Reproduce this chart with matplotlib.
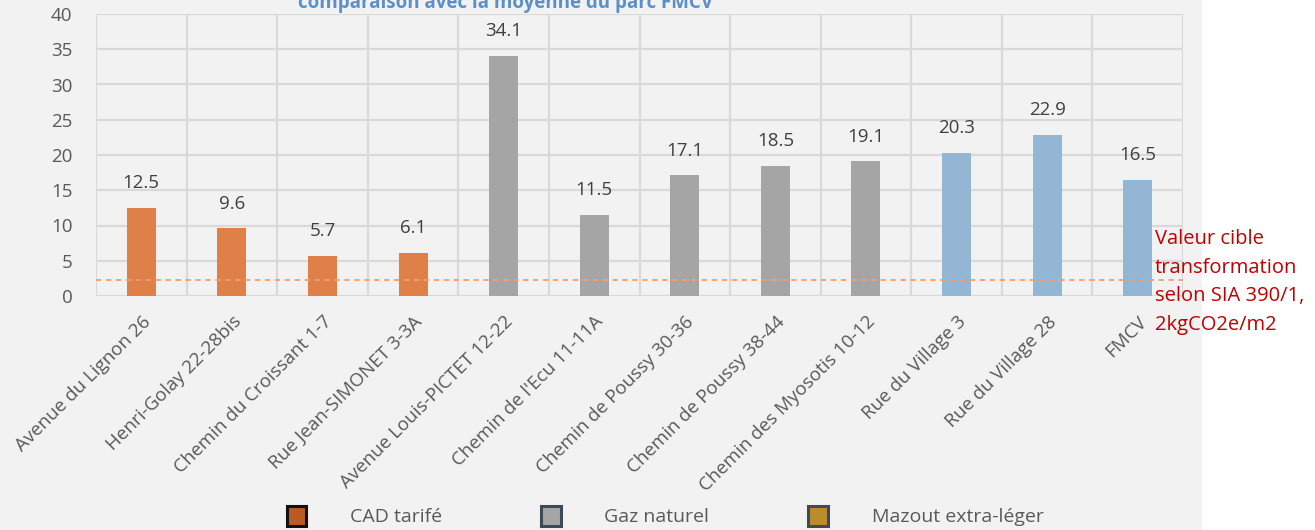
import matplotlib
matplotlib.use("Agg")
import matplotlib.pyplot as plt
from matplotlib.patches import Patch, Rectangle


# données
batiments = [
    "Avenue du Lignon 26",
    "Henri-Golay 22-28bis",
    "Chemin du Croissant 1-7",
    "Rue Jean-SIMONET 3-3A",
    "Avenue Louis-PICTET 12-22",
    "Chemin de l'Ecu 11-11A",
    "Chemin de Poussy 30-36",
    "Chemin de Poussy 38-44",
    "Chemin des Myosotis 10-12",
    "Rue du Village 3",
    "Rue du Village 28",
    "FMCV",
]
emissions = [12.5, 9.6, 5.7, 6.1, 34.1, 11.5, 17.1, 18.5, 19.1, 20.3, 22.9, 16.5]
groupes = ["cad", "cad", "cad", "cad", "gaz", "gaz", "gaz", "gaz", "gaz",
           "autre", "autre", "autre"]
valeur_cible = 2.3

legende_labels = ["CAD tarifé", "Gaz naturel", "Mazout extra-léger"]
legende_couleurs = ["#BA5A22", "#A5A5A5", "#BA8C2C"]
legende_bords = ["#111111", "#3E4A56", "#3E4A56"]

couleurs = {"cad": "#DE8048", "gaz": "#A5A5A5", "autre": "#94B6D5"}

FONT = ["Open Sans", "DejaVu Sans"]
GRIS_TXT = "#595959"

plt.rcParams["font.family"] = FONT

fig = plt.figure(figsize=(13.15, 5.3), dpi=100, facecolor="white")
# fond gris de la zone du graphique
fig.add_artist(Rectangle((0, 0), 1202 / 1315, 1, transform=fig.transFigure,
                         facecolor="#F2F2F2", edgecolor="none", zorder=-10))

ax = fig.add_axes([96 / 1315, 1 - 296 / 530, 1087 / 1315, 282 / 530])
ax.set_facecolor("#F2F2F2")

x = list(range(len(batiments)))
bars = ax.bar(x, emissions, width=0.32,
              color=[couleurs[g] for g in groupes], zorder=3)

for xi, v in zip(x, emissions):
    ax.text(xi, v + 2.2, f"{v:.1f}", ha="center", va="bottom",
            fontsize=13.5, color="#404040")

ax.axhline(valeur_cible, color="#F0A070", linestyle=(0, (3, 2.5)),
           linewidth=1.3, zorder=4)

ax.set_xlim(-0.5, len(batiments) - 0.5)
ax.set_ylim(0, 40)
ax.set_yticks(range(0, 41, 5))
ax.tick_params(axis="y", length=0, pad=17, labelsize=13.5, labelcolor=GRIS_TXT)

ax.set_xticks(x)
ax.set_xticklabels(batiments, rotation=45, ha="right", rotation_mode="anchor",
                   fontsize=13.5, color=GRIS_TXT)
ax.tick_params(axis="x", length=0, pad=12)

# quadrillage
ax.set_xticks([i + 0.5 for i in range(-1, len(batiments))], minor=True)
ax.grid(axis="y", color="#D9D9D9", linewidth=1.6, zorder=0)
ax.grid(axis="x", which="minor", color="#D9D9D9", linewidth=1.6, zorder=0)
ax.tick_params(axis="x", which="minor", length=0)
for s in ax.spines.values():
    s.set_visible(False)

fig.text(505 / 1315, 1 - 8 / 530, "comparaison avec la moyenne du parc FMCV",
         ha="center", va="baseline", fontsize=13.5, fontweight="bold",
         color="#5B8FC9")

fig.text(1155 / 1315, 1 - 229 / 530,
         "Valeur cible\ntransformation\nselon SIA 390/1,\n2kgCO2e/m2",
         ha="left", va="top", fontsize=14.5, color="#C00000", linespacing=1.58)

handles = [Patch(facecolor=c, edgecolor=e, linewidth=2.2)
           for c, e in zip(legende_couleurs, legende_bords)]
leg = fig.legend(handles, legende_labels, loc="center",
                 bbox_to_anchor=(665 / 1315, 1 - 516 / 530), ncol=3,
                 frameon=False, handlelength=1.0, handleheight=1.2,
                 handletextpad=2.25, columnspacing=5.1,
                 prop={"size": 14})
for t in leg.get_texts():
    t.set_color(GRIS_TXT)

fig.savefig("out.png", dpi=100, facecolor=fig.get_facecolor())
